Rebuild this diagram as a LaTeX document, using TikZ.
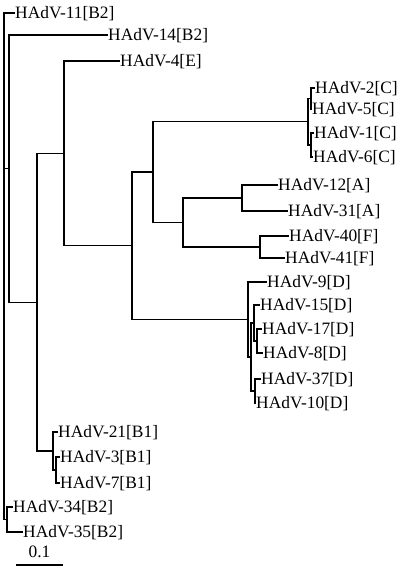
\documentclass[tikz,border=0pt]{standalone}
\usepackage{fontspec}
\setmainfont{Liberation Serif}
\begin{document}
\begin{tikzpicture}[x=1pt,y=-1pt,
  br/.style={line width=1.2pt,line cap=rect},
  leaf/.style={anchor=west,inner sep=1pt,font=\fontsize{17.4}{20}\selectfont,text height=11.5pt,text depth=0pt}]
\useasboundingbox (0,0) rectangle (400,571);
% leaves
\node[leaf] (L11) at (14,13) {HAdV-11[B2]};
\node[leaf] (L14) at (107,35) {HAdV-14[B2]};
\node[leaf] (L4) at (119,61) {HAdV-4[E]};
\node[leaf] (L2) at (314,88) {HAdV-2[C]};
\node[leaf] (L5) at (311,109) {HAdV-5[C]};
\node[leaf] (L1) at (313,133) {HAdV-1[C]};
\node[leaf] (L6) at (312,157) {HAdV-6[C]};
\node[leaf] (L12) at (277,185) {HAdV-12[A]};
\node[leaf] (L31) at (287,211) {HAdV-31[A]};
\node[leaf] (L40) at (288,236) {HAdV-40[F]};
\node[leaf] (L41) at (284,258) {HAdV-41[F]};
\node[leaf] (L9) at (266,282) {HAdV-9[D]};
\node[leaf] (L15) at (259,305) {HAdV-15[D]};
\node[leaf] (L17) at (261,329) {HAdV-17[D]};
\node[leaf] (L8) at (262,353) {HAdV-8[D]};
\node[leaf] (L37) at (260,379) {HAdV-37[D]};
\node[leaf] (L10) at (255,403) {HAdV-10[D]};
\node[leaf] (L21) at (57,432) {HAdV-21[B1]};
\node[leaf] (L3) at (59,457) {HAdV-3[B1]};
\node[leaf] (L7) at (59,483) {HAdV-7[B1]};
\node[leaf] (L34) at (12,507) {HAdV-34[B2]};
\node[leaf] (L35) at (22,532) {HAdV-35[B2]};
% internal nodes
\coordinate (nC1) at (311,98.5);
\coordinate (nC2) at (311,145);
\coordinate (nC) at (308,121.75);
\coordinate (nA) at (242,198);
\coordinate (nF) at (260,247);
\coordinate (n6) at (183,222.5);
\coordinate (n5) at (153,172);
\coordinate (nD17) at (257,341);
\coordinate (nD15) at (254,323);
\coordinate (nD37) at (255,391);
\coordinate (nD2) at (251,357);
\coordinate (nD) at (248,319.5);
\coordinate (n4) at (132,245.75);
\coordinate (n3) at (64,153.4);
\coordinate (nB37) at (56,470);
\coordinate (nB) at (53,451);
\coordinate (n2) at (37,302.2);
\coordinate (n1) at (9,168.6);
\coordinate (n34) at (7,519.5);
\coordinate (root) at (4,266);
% branches
\draw[br] (nC1) |- (L2.west); \draw[br] (nC1) |- (L5.west);
\draw[br] (nC2) |- (L1.west); \draw[br] (nC2) |- (L6.west);
\draw[br] (nC) |- (nC1); \draw[br] (nC) |- (nC2);
\draw[br] (nA) |- (L12.west); \draw[br] (nA) |- (L31.west);
\draw[br] (nF) |- (L40.west); \draw[br] (nF) |- (L41.west);
\draw[br] (n6) |- (nA); \draw[br] (n6) |- (nF);
\draw[br] (n5) |- (nC); \draw[br] (n5) |- (n6);
\draw[br] (nD17) |- (L17.west); \draw[br] (nD17) |- (L8.west);
\draw[br] (nD15) |- (L15.west); \draw[br] (nD15) |- (nD17);
\draw[br] (nD37) |- (L37.west); \draw[br] (nD37) |- (L10.west);
\draw[br] (nD2) |- (nD15); \draw[br] (nD2) |- (nD37);
\draw[br] (nD) |- (L9.west); \draw[br] (nD) |- (nD2);
\draw[br] (n4) |- (n5); \draw[br] (n4) |- (nD);
\draw[br] (n3) |- (L4.west); \draw[br] (n3) |- (n4);
\draw[br] (nB37) |- (L3.west); \draw[br] (nB37) |- (L7.west);
\draw[br] (nB) |- (L21.west); \draw[br] (nB) |- (nB37);
\draw[br] (n2) |- (n3); \draw[br] (n2) |- (nB);
\draw[br] (n1) |- (L14.west); \draw[br] (n1) |- (n2);
\draw[br] (n34) |- (L34.west); \draw[br] (n34) |- (L35.west);
\draw[br] (root) |- (L11.west); \draw[br] (root) |- (n1); \draw[br] (root) |- (n34);
% scale bar
\coordinate (sb1) at (16,565);
\coordinate (sb2) at (63,565);
\draw[br,line cap=butt] (sb1) -- (sb2);
\node[leaf,anchor=south] (sbl) at (39.5,559) {0.1};
\end{tikzpicture}
\end{document}
